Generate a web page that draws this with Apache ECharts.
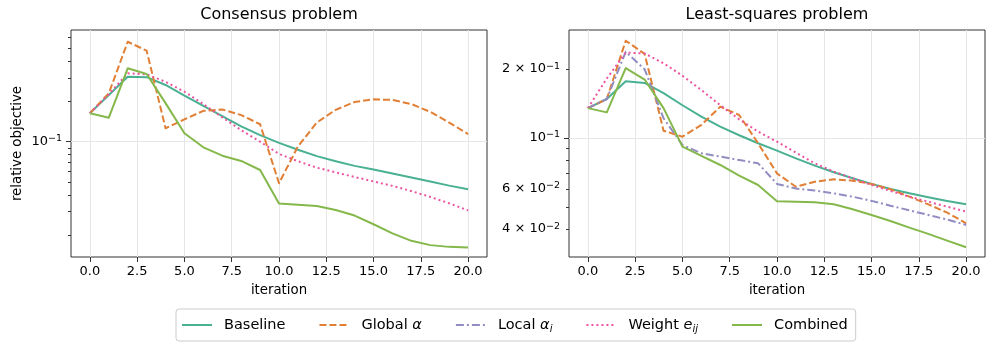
<!DOCTYPE html>
<html><head><meta charset="utf-8">
<script src="https://cdn.jsdelivr.net/npm/echarts@6/dist/echarts.min.js"></script>
<style>html,body{margin:0;padding:0;background:#fff}#c{width:996px;height:352px}</style>
</head><body><div id="c"></div>
<script>
// ---------------- data ----------------
const iterations = [0,1,2,3,4,5,6,7,8,9,10,11,12,13,14,15,16,17,18,19,20];
const xTicks = [0, 2.5, 5, 7.5, 10, 12.5, 15, 17.5, 20];
const xRange = [-1, 21];

const seriesNames = ['Baseline', 'Global α', 'Local αi', 'Weight eij', 'Combined'];

// Consensus problem
const consensusBaseline = [0.163,0.223,0.305,0.303,0.265,0.221,0.185,0.155,0.130,0.112,0.098,0.087,0.078,0.0715,0.066,0.062,0.0578,0.054,0.0505,0.047,0.0442];
const consensusGlobal   = [0.163,0.230,0.557,0.478,0.126,0.147,0.170,0.174,0.158,0.135,0.049,0.092,0.139,0.173,0.198,0.207,0.205,0.191,0.167,0.139,0.114];
const consensusWeight   = [0.163,0.226,0.324,0.318,0.280,0.236,0.191,0.152,0.122,0.100,0.081,0.0715,0.064,0.059,0.0545,0.0505,0.0468,0.0428,0.0387,0.0347,0.0307];
const consensusCombined = [0.163,0.151,0.353,0.320,0.194,0.1155,0.0908,0.0786,0.0718,0.0615,0.0345,0.0339,0.0331,0.0309,0.0281,0.0242,0.0207,0.0182,0.0169,0.0164,0.0162];
const consensusYRange = [0.01378, 0.682];
const consensusYMajorTicks = [0.1];
const consensusYMinorTicks = [0.02,0.03,0.04,0.05,0.06,0.07,0.08,0.09,0.2,0.3,0.4,0.5,0.6];
const consensusYLabels = [0.1];

// Least-squares problem
const lsqBaseline = [0.135,0.148,0.177,0.174,0.157,0.139,0.124,0.112,0.1028,0.0948,0.088,0.0815,0.0757,0.0708,0.0667,0.0630,0.0599,0.0573,0.0551,0.0531,0.0513];
const lsqGlobal   = [0.135,0.148,0.266,0.233,0.1076,0.1013,0.114,0.137,0.126,0.0948,0.070,0.0612,0.0644,0.0660,0.0651,0.0630,0.0597,0.0554,0.0513,0.0472,0.0424];
const lsqLocal    = [0.135,0.148,0.238,0.1995,0.122,0.0932,0.0857,0.0829,0.0801,0.0775,0.063,0.0601,0.0589,0.0573,0.0554,0.0531,0.0506,0.0483,0.0461,0.0440,0.0417];
const lsqWeight   = [0.135,0.182,0.236,0.234,0.212,0.187,0.162,0.139,0.1206,0.1066,0.0963,0.0862,0.0775,0.0713,0.0667,0.0623,0.0587,0.0554,0.0527,0.0501,0.0477];
const lsqCombined = [0.135,0.1294,0.202,0.180,0.135,0.0917,0.0835,0.0762,0.0685,0.0623,0.0529,0.0527,0.0524,0.0513,0.0488,0.0461,0.0434,0.0406,0.0381,0.0356,0.0333];
const lsqYRange = [0.0302, 0.2963];
const lsqYMajorTicks = [0.1];
const lsqYMinorTicks = [0.04,0.05,0.06,0.07,0.08,0.09,0.2];
const lsqYLabels = [0.04,0.06,0.1,0.2];

const panelTitles = ['Consensus problem', 'Least-squares problem'];

// ---------------- styles ----------------
const FONT = 'DejaVu Sans';
const styles = {
  'Baseline':   {color:'#49b192', type:'solid'},
  'Global α':   {color:'#e17f35', type:[7,3]},
  'Local αi':   {color:'#918dc2', type:[8,3,2,3]},
  'Weight eij': {color:'#ec54a1', type:[2,3]},
  'Combined':   {color:'#85b84b', type:'solid'}
};
const grids = [
  {left:71, top:30, width:416, height:227},
  {left:569, top:30, width:416, height:227}
];

const log10 = Math.log10;

function sciLabel(lv) {
  const e = Math.floor(lv + 1e-9);
  const m = Math.round(Math.pow(10, lv - e));
  const sup = '{sup|' + (e < 0 ? '\u2212' : '') + Math.abs(e) + '}';
  return m === 1 ? '{n|10}' + sup : '{n|' + m + ' \u00d7 10}' + sup;
}

const labelRich = {
  n: {fontFamily: FONT, fontSize: 13, color: '#000', lineHeight: 16},
  sup: {fontFamily: FONT, fontSize: 9.5, color: '#000', lineHeight: 11, verticalAlign: 'top'}
};

function xAxisFor(gi) {
  return {
    type: 'value', gridIndex: gi, min: xRange[0], max: xRange[1],
    name: 'iteration', nameLocation: 'middle', nameGap: 27,
    nameTextStyle: {fontFamily: FONT, fontSize: 13.3, color: '#000'},
    axisLine: {show: false},
    axisTick: {show: true, length: 5, customValues: xTicks, lineStyle: {color: '#333', width: 1}},
    axisLabel: {customValues: xTicks, margin: 8, fontFamily: FONT, fontSize: 13, color: '#000',
      formatter: v => v.toFixed(1)},
    splitLine: {show: true, lineStyle: {color: '#e6e6e6', width: 1}}
  };
}

function yAxesFor(gi, range, majors, minors, labels, withName) {
  const lr = [log10(range[0]), log10(range[1])];
  return [
    { // data axis (log scale)
      type: 'log', logBase: 10, gridIndex: gi, min: range[0], max: range[1], show: false,
      position: 'left', splitLine: {show: false}, axisLabel: {show: false}, axisTick: {show: false}, axisLine: {show: false}
    },
    { // major ticks + labels (in log10 space)
      type: 'value', gridIndex: gi, min: lr[0], max: lr[1], position: 'left',
      name: withName ? 'relative objective' : '', nameLocation: 'middle', nameGap: 47, nameRotate: 90,
      nameTextStyle: {fontFamily: FONT, fontSize: 13.3, color: '#000'},
      axisLine: {show: false},
      axisTick: {show: true, length: 5, customValues: majors.map(log10), lineStyle: {color: '#333', width: 1}},
      axisLabel: {show: true, customValues: labels.map(log10), margin: 9, formatter: sciLabel, rich: labelRich},
      splitLine: {show: true, lineStyle: {color: '#e6e6e6', width: 1}}
    },
    { // minor ticks
      type: 'value', gridIndex: gi, min: lr[0], max: lr[1], position: 'left',
      axisLine: {show: false},
      axisTick: {show: true, length: 3, customValues: minors.map(log10), lineStyle: {color: '#333', width: 1}},
      axisLabel: {show: false}, splitLine: {show: false}
    }
  ];
}

function mkSeries(name, values, gi, yIndex) {
  const st = styles[name];
  return {
    type: 'line', name: name, xAxisIndex: gi, yAxisIndex: yIndex,
    data: iterations.map((it, k) => [it, values[k]]),
    symbol: 'none', showSymbol: false, clip: true,
    lineStyle: {color: st.color, width: 2, type: st.type, cap: 'butt', join: 'round'},
    itemStyle: {color: st.color},
    emphasis: {disabled: true}
  };
}

const panels = [
  {Baseline: consensusBaseline, 'Global α': consensusGlobal, 'Weight eij': consensusWeight, Combined: consensusCombined},
  {Baseline: lsqBaseline, 'Global α': lsqGlobal, 'Local αi': lsqLocal, 'Weight eij': lsqWeight, Combined: lsqCombined}
];

const series = [];
panels.forEach((p, gi) => {
  seriesNames.forEach(n => { if (p[n]) series.push(mkSeries(n, p[n], gi, gi * 3)); });
});

const legendLabels = {
  'Baseline': 'Baseline',
  'Global α': 'Global {it|α}',
  'Local αi': 'Local {it|α}{sub|i}',
  'Weight eij': 'Weight {it|e}{sub|ij}',
  'Combined': 'Combined'
};

const option = {
  animation: false,
  textStyle: {fontFamily: FONT},
  title: panelTitles.map((t, gi) => ({
    text: t, left: grids[gi].left + grids[gi].width / 2, top: 7, textAlign: 'center', padding: 0,
    textStyle: {fontFamily: FONT, fontSize: 16, fontWeight: 'normal', color: '#000'}
  })),
  legend: {
    data: seriesNames, left: 176, top: 309, orient: 'horizontal',
    itemWidth: 30, itemHeight: 14, itemGap: 33,
    padding: [7, 8, 7, 5],
    borderColor: '#cccccc', borderWidth: 1, borderRadius: 3, backgroundColor: '#fff',
    itemStyle: {color: 'transparent', borderWidth: 0, opacity: 0},
    formatter: n => legendLabels[n],
    textStyle: {fontFamily: FONT, fontSize: 14.5, color: '#000', padding: [0, 0, 0, 7], lineHeight: 18,
      rich: {
        it: {fontFamily: FONT, fontSize: 14.5, fontStyle: 'italic', color: '#000', lineHeight: 18},
        sub: {fontFamily: FONT, fontSize: 10, fontStyle: 'italic', color: '#000', lineHeight: 10, verticalAlign: 'bottom'}
      }}
  },
  grid: grids.map(g => Object.assign({show: true, borderColor: '#333', borderWidth: 1, backgroundColor: 'transparent', containLabel: false}, g)),
  xAxis: [xAxisFor(0), xAxisFor(1)],
  yAxis: [].concat(
    yAxesFor(0, consensusYRange, consensusYMajorTicks, consensusYMinorTicks, consensusYLabels, true),
    yAxesFor(1, lsqYRange, lsqYMajorTicks, lsqYMinorTicks, lsqYLabels, false)
  ),
  series: series
};

const chart = echarts.init(document.getElementById('c'), null, {renderer: 'canvas'});
chart.setOption(option);
</script>
</body></html>
